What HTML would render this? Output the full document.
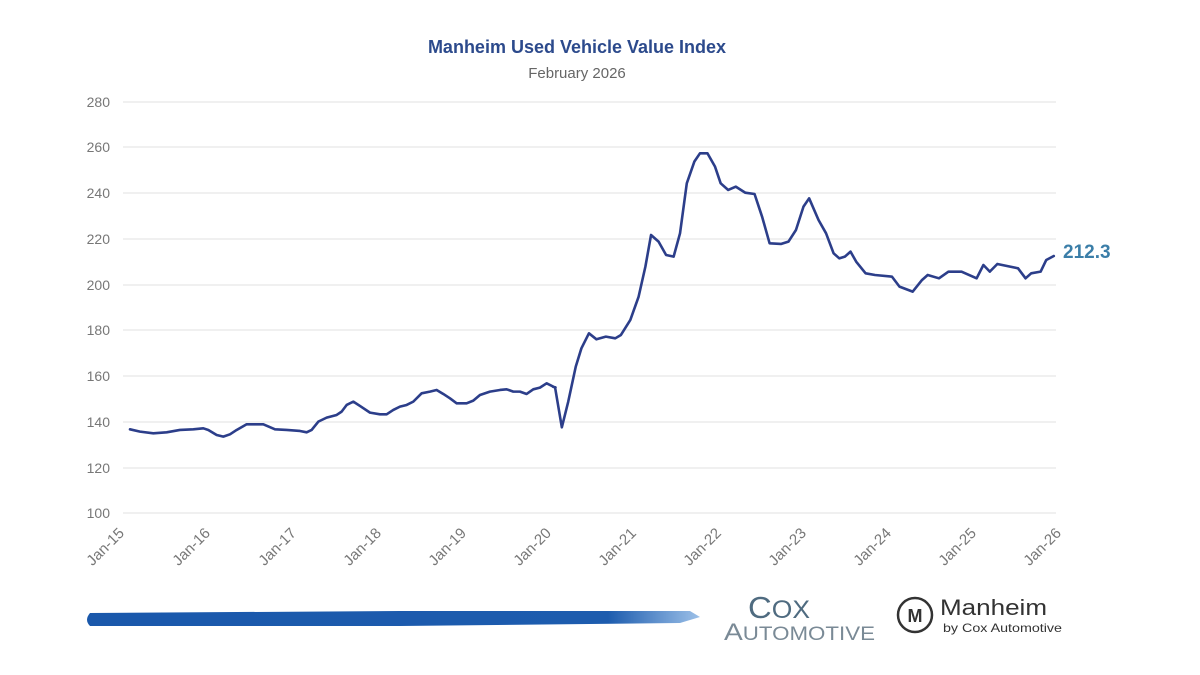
<!DOCTYPE html>
<html><head><meta charset="utf-8"><style>
body{margin:0;background:#fff;}
svg{display:block;font-family:"Liberation Sans",sans-serif;}
</style></head><body>
<svg width="1200" height="675" viewBox="0 0 1200 675">
<defs><linearGradient id="br" x1="0" x2="1" y1="0" y2="0"><stop offset="0" stop-color="#1a58ab"/><stop offset="0.85" stop-color="#1d5cae"/><stop offset="1" stop-color="#9cc0e8"/></linearGradient></defs>
<rect width="1200" height="675" fill="#fff"/>
<text x="577" y="53" text-anchor="middle" font-size="18" font-weight="bold" fill="#2c4a8c">Manheim Used Vehicle Value Index</text>
<text x="577" y="78" text-anchor="middle" font-size="15" fill="#666">February 2026</text>
<g stroke="#ececec" stroke-width="1.5">
<line x1="123" x2="1056" y1="102" y2="102"/><line x1="123" x2="1056" y1="147" y2="147"/>
<line x1="123" x2="1056" y1="193" y2="193"/><line x1="123" x2="1056" y1="239" y2="239"/>
<line x1="123" x2="1056" y1="285" y2="285"/><line x1="123" x2="1056" y1="330" y2="330"/>
<line x1="123" x2="1056" y1="376" y2="376"/><line x1="123" x2="1056" y1="422" y2="422"/>
<line x1="123" x2="1056" y1="468" y2="468"/><line x1="123" x2="1056" y1="513" y2="513"/>
</g>
<g font-size="14" fill="#777" text-anchor="end">
<text x="110" y="107">280</text><text x="110" y="152">260</text><text x="110" y="198">240</text>
<text x="110" y="244">220</text><text x="110" y="290">200</text><text x="110" y="335">180</text>
<text x="110" y="381">160</text><text x="110" y="427">140</text><text x="110" y="473">120</text>
<text x="110" y="518">100</text>
</g>
<g font-size="15" fill="#777" text-anchor="end">
<text transform="translate(125,534) rotate(-45)">Jan-15</text>
<text transform="translate(211,534) rotate(-45)">Jan-16</text>
<text transform="translate(297,534) rotate(-45)">Jan-17</text>
<text transform="translate(382,534) rotate(-45)">Jan-18</text>
<text transform="translate(467,534) rotate(-45)">Jan-19</text>
<text transform="translate(552,534) rotate(-45)">Jan-20</text>
<text transform="translate(637,534) rotate(-45)">Jan-21</text>
<text transform="translate(722,534) rotate(-45)">Jan-22</text>
<text transform="translate(807,534) rotate(-45)">Jan-23</text>
<text transform="translate(892,534) rotate(-45)">Jan-24</text>
<text transform="translate(977,534) rotate(-45)">Jan-25</text>
<text transform="translate(1062,534) rotate(-45)">Jan-26</text>
</g>
<g fill="none" stroke="#2c3e8a" stroke-width="2.6" stroke-linejoin="round" stroke-linecap="round">
<polyline vector-effect="non-scaling-stroke" transform="translate(80,90) scale(0.3333)" points="150,1018 180,1025 220,1030 260,1027 300,1020 340,1018 370,1015 385,1020 410,1035 430,1040 450,1033 470,1020 500,1003 550,1003 585,1018 620,1020 660,1023 680,1027 695,1020 715,995 740,983 770,975 785,965 800,945 820,935 840,948 870,968 900,973 920,973 940,960 960,950 980,945 1000,935 1025,910 1050,905 1070,900 1090,912 1110,925 1130,940 1160,940 1180,932 1200,915 1230,905 1260,900 1280,898 1300,905 1320,905 1340,912 1360,898 1380,893 1400,880 1420,890"/>
<line x1="553" y1="386.7" x2="555.5" y2="387.5"/>
<polyline vector-effect="non-scaling-stroke" transform="translate(540,90) scale(0.3764,0.3333)" points="40,892 58,1012 75,935 95,830 110,775 130,730 150,748 175,740 200,745 215,735 240,690 262,620 280,530 295,435 315,455 335,495 355,500 372,430 390,280 410,215 425,190 445,190 465,230 480,280 500,300 520,290 545,308 570,312 590,380 610,460 640,462 660,455 680,420 700,350 715,325 740,390 760,430 780,490 795,505 810,500 825,485 840,515 865,550 890,555 935,560 955,590 990,605 1015,570 1030,555 1060,565 1085,545 1120,545 1160,565 1178,525 1195,545 1215,522 1270,535 1290,565 1305,550 1330,545 1345,510 1365,498"/>
</g>
<text x="1063" y="258" font-size="19" font-weight="bold" fill="#3b7ea8">212.3</text>
<path d="M90,613 Q84,620 90,626 L400,626 L680,623 L700,617 L690,611 L400,611 Z" fill="url(#br)"/>
<text x="748" y="618" font-size="31" fill="#4f6b80" textLength="62" lengthAdjust="spacingAndGlyphs">C<tspan font-size="25">OX</tspan></text>
<text x="724" y="640" font-size="24" fill="#7a8a96" textLength="151" lengthAdjust="spacingAndGlyphs">A<tspan font-size="19">UTOMOTIVE</tspan></text>
<circle cx="915" cy="615" r="17" fill="none" stroke="#333" stroke-width="2.5"/>
<text x="915" y="622" text-anchor="middle" font-size="18" font-weight="bold" fill="#333">M</text>
<text x="940" y="615" font-size="22" fill="#333" textLength="107" lengthAdjust="spacingAndGlyphs">Manheim</text>
<text x="943" y="632" font-size="12" fill="#333" textLength="119" lengthAdjust="spacingAndGlyphs">by Cox Automotive</text>
</svg>
</body></html>
